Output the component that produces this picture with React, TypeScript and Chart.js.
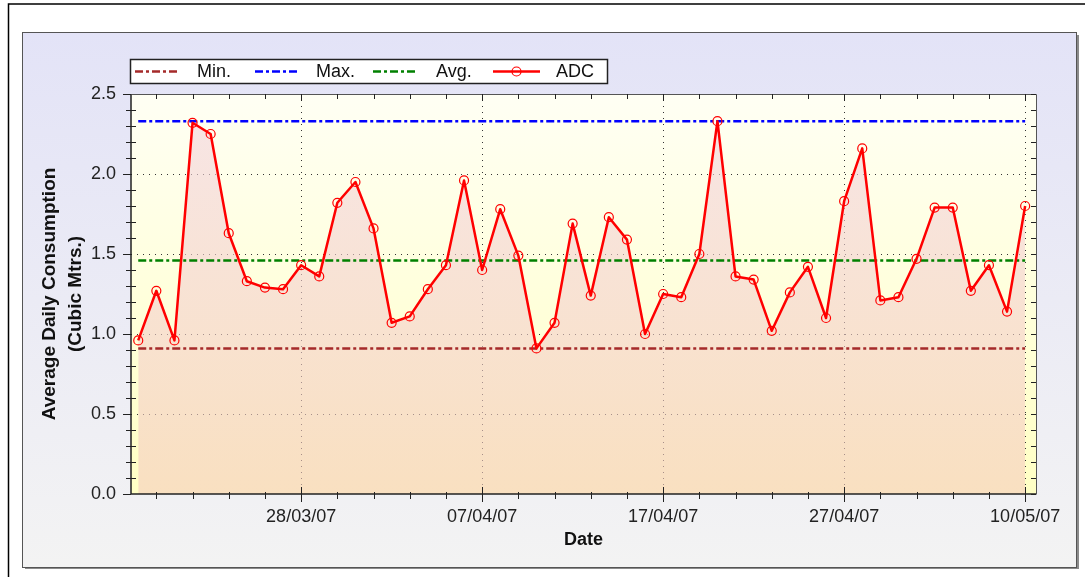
import React, { useEffect, useRef } from 'react';
import { Chart, registerables } from 'chart.js';

Chart.register(...registerables);

// ---- Data ----
const ADC_VALUES = [
  0.96, 1.27, 0.96, 2.32, 2.25, 1.63, 1.33, 1.29, 1.28, 1.43,
  1.36, 1.82, 1.95, 1.66, 1.07, 1.11, 1.28, 1.43, 1.96, 1.40,
  1.78, 1.49, 0.91, 1.07, 1.69, 1.24, 1.73, 1.59, 1.00, 1.25,
  1.23, 1.50, 2.33, 1.36, 1.34, 1.02, 1.26, 1.42, 1.10, 1.83,
  2.16, 1.21, 1.23, 1.47, 1.79, 1.79, 1.27, 1.43, 1.14, 1.80,
];
const MIN_VALUE = 0.91;
const MAX_VALUE = 2.33;
const AVG_VALUE = 1.46;

const X_TICK_POSITIONS = [9, 19, 29, 39, 49];
const X_TICK_LABELS = ['28/03/07', '07/04/07', '17/04/07', '27/04/07', '10/05/07'];
const Y_MIN = 0;
const Y_MAX = 2.5;
const Y_STEP = 0.5;

const LEGEND_LABELS = ['Min.', 'Max.', 'Avg.', 'ADC'];
const COLORS = { min: '#A52A2A', max: '#0000FF', avg: '#008000', adc: '#FF0000' };

const FONT = "'Liberation Sans', Arial, Helvetica, sans-serif";
const DASH = [8, 3, 3, 3];

export default function App() {
  const ref = useRef<HTMLCanvasElement>(null);

  useEffect(() => {
    const canvas = ref.current;
    if (!canvas) return;
    const lastIdx = ADC_VALUES.length - 1;
    const minorX: number[] = [];
    for (let i = 1; i <= lastIdx; i += 2) minorX.push(i);

    const refLine = (label: string, value: number, color: string) => ({
      label,
      data: [
        { x: 0, y: value },
        { x: lastIdx, y: value },
      ],
      borderColor: color,
      borderWidth: 2.5,
      borderDash: DASH,
      pointRadius: 0,
      fill: false,
      tension: 0,
    });

    const background = {
      id: 'bg',
      beforeDraw(chart: any) {
        const { ctx, width, height, chartArea: ca } = chart;
        ctx.save();
        ctx.fillStyle = '#FFFFFF';
        ctx.fillRect(0, 0, width, height);
        // outer frame
        ctx.strokeStyle = '#000';
        ctx.lineWidth = 1.5;
        ctx.beginPath();
        ctx.moveTo(8.5, height);
        ctx.lineTo(8.5, 4);
        ctx.lineTo(width, 4);
        ctx.stroke();
        // panel
        const g = ctx.createLinearGradient(0, 32, 0, 567);
        g.addColorStop(0, '#E3E3F7');
        g.addColorStop(1, '#F3F3F3');
        ctx.fillStyle = '#8A8A8A';
        ctx.fillRect(25, 567, 1054, 2);
        ctx.fillRect(1077, 35, 2, 534);
        ctx.fillStyle = g;
        ctx.fillRect(23, 32, 1054, 535);
        ctx.strokeStyle = '#555';
        ctx.lineWidth = 1;
        ctx.strokeRect(22.5, 32.5, 1054, 535);
        // plot area
        const pg = ctx.createLinearGradient(0, ca.top, 0, ca.bottom);
        pg.addColorStop(0, '#FFFFF4');
        pg.addColorStop(1, '#FFFFC4');
        ctx.fillStyle = pg;
        ctx.fillRect(ca.left, ca.top, ca.right - ca.left, ca.bottom - ca.top);
        ctx.restore();
      },
    };

    const overlay = {
      id: 'overlay',
      afterDraw(chart: any) {
        const { ctx, chartArea: ca } = chart;
        const xs = chart.scales.x;
        const ys = chart.scales.y;
        ctx.save();
        // plot border
        ctx.strokeStyle = '#555';
        ctx.lineWidth = 1;
        ctx.beginPath();
        ctx.moveTo(Math.round(ca.left) + 0.5, Math.round(ca.top) + 0.5);
        ctx.lineTo(Math.round(ca.right) + 0.5, Math.round(ca.top) + 0.5);
        ctx.lineTo(Math.round(ca.right) + 0.5, Math.round(ca.bottom) + 0.5);
        ctx.stroke();
        ctx.strokeStyle = '#222';
        ctx.lineWidth = 1.5;
        ctx.beginPath();
        ctx.moveTo(ca.left, ca.top);
        ctx.lineTo(ca.left, ca.bottom);
        ctx.lineTo(ca.right, ca.bottom);
        ctx.stroke();

        // tick marks
        ctx.strokeStyle = '#222';
        ctx.lineWidth = 1;
        ctx.beginPath();
        const nY = Math.round((Y_MAX - Y_MIN) / 0.1);
        for (let k = 0; k <= nY; k++) {
          const y = Math.round(ys.getPixelForValue(Y_MIN + k * 0.1)) + 0.5;
          const major = k % 5 === 0;
          if (major) {
            ctx.moveTo(ca.left - 8, y);
            ctx.lineTo(ca.left, y);
          } else {
            ctx.moveTo(ca.left - 5, y);
            ctx.lineTo(ca.left + 5, y);
          }
          ctx.moveTo(ca.right - 5, y);
          ctx.lineTo(ca.right, y);
        }
        for (const v of minorX) {
          const x = Math.round(xs.getPixelForValue(v)) + 0.5;
          const major = X_TICK_POSITIONS.includes(v);
          if (major) {
            ctx.moveTo(x, ca.bottom - 7);
            ctx.lineTo(x, ca.bottom + 8);
            ctx.moveTo(x, ca.top);
            ctx.lineTo(x, ca.top + 7);
          } else {
            ctx.moveTo(x, ca.bottom - 2);
            ctx.lineTo(x, ca.bottom + 5);
            ctx.moveTo(x, ca.top);
            ctx.lineTo(x, ca.top + 5);
          }
        }
        ctx.stroke();

        // legend
        const bx = 130.5, by = 59.5, bw = 477, bh = 24;
        ctx.fillStyle = '#FFFFFF';
        ctx.fillRect(bx, by, bw, bh);
        ctx.strokeStyle = '#222';
        ctx.lineWidth = 1.5;
        ctx.strokeRect(bx, by, bw, bh);
        const cy = 71.5;
        const items = [
          { label: LEGEND_LABELS[0], color: COLORS.min, x1: 135, x2: 178, tx: 197, dash: true },
          { label: LEGEND_LABELS[1], color: COLORS.max, x1: 255, x2: 298, tx: 316, dash: true },
          { label: LEGEND_LABELS[2], color: COLORS.avg, x1: 373, x2: 418, tx: 436, dash: true },
          { label: LEGEND_LABELS[3], color: COLORS.adc, x1: 493, x2: 540, tx: 556, dash: false },
        ];
        ctx.font = `18px ${FONT}`;
        ctx.textBaseline = 'middle';
        ctx.textAlign = 'left';
        for (const it of items) {
          ctx.strokeStyle = it.color;
          ctx.lineWidth = 2.5;
          ctx.setLineDash(it.dash ? DASH : []);
          ctx.beginPath();
          ctx.moveTo(it.x1, cy);
          ctx.lineTo(it.x2, cy);
          ctx.stroke();
          ctx.setLineDash([]);
          if (!it.dash) {
            ctx.lineWidth = 1.2;
            ctx.beginPath();
            ctx.arc((it.x1 + it.x2) / 2, cy, 4.5, 0, Math.PI * 2);
            ctx.stroke();
          }
          ctx.fillStyle = '#111';
          ctx.fillText(it.label, it.tx, cy + 1);
        }
        ctx.restore();
      },
    };

    const chart = new Chart(canvas, {
      type: 'line',
      data: {
        datasets: [
          {
            label: LEGEND_LABELS[3],
            data: ADC_VALUES.map((y, i) => ({ x: i, y })),
            borderColor: COLORS.adc,
            borderWidth: 2.5,
            borderJoinStyle: 'round',
            pointRadius: 4.5,
            pointBorderWidth: 1.2,
            pointBorderColor: COLORS.adc,
            pointBackgroundColor: 'rgba(0,0,0,0)',
            tension: 0,
            fill: 'origin',
            backgroundColor: (c: any) => {
              const ca = c.chart.chartArea;
              if (!ca) return 'rgba(245,205,200,0.6)';
              const g = c.chart.ctx.createLinearGradient(0, ca.top, 0, ca.bottom);
              g.addColorStop(0, 'rgba(242,212,222,0.6)');
              g.addColorStop(1, 'rgba(245,203,190,0.6)');
              return g;
            },
          },
          refLine(LEGEND_LABELS[2], AVG_VALUE, COLORS.avg),
          refLine(LEGEND_LABELS[1], MAX_VALUE, COLORS.max),
          refLine(LEGEND_LABELS[0], MIN_VALUE, COLORS.min),
        ] as any,
      },
      options: {
        responsive: false,
        animation: false,
        devicePixelRatio: 1,
        layout: { padding: { top: 94, right: 49, left: 0, bottom: 0 } },
        font: { family: FONT },
        plugins: {
          legend: { display: false },
          tooltip: { enabled: false },
          filler: { drawTime: 'beforeDatasetsDraw' },
        } as any,
        scales: {
          x: {
            type: 'linear',
            min: -0.4,
            max: lastIdx + 0.6,
            afterBuildTicks: (s: any) => {
              s.ticks = minorX.map((v) => ({ value: v }));
            },
            afterFit: (s: any) => {
              s.height = 83;
            },
            ticks: {
              autoSkip: false,
              maxRotation: 0,
              padding: 12,
              color: '#222',
              font: { size: 18, family: FONT },
              callback: (v: any) => {
                const i = X_TICK_POSITIONS.indexOf(Number(v));
                return i >= 0 ? X_TICK_LABELS[i] : '';
              },
            },
            grid: {
              drawTicks: false,
              lineWidth: 1,
              color: (c: any) =>
                c.tick && X_TICK_POSITIONS.includes(c.tick.value) ? '#333' : 'rgba(0,0,0,0)',
            },
            border: { display: false, dash: [1, 5] },
            title: {
              display: true,
              text: 'Date',
              color: '#111',
              font: { size: 18, weight: 'bold', family: FONT },
              padding: { top: 0, bottom: 26 },
            },
          },
          y: {
            min: Y_MIN,
            max: Y_MAX,
            afterFit: (s: any) => {
              s.width = 131;
            },
            ticks: {
              stepSize: Y_STEP,
              padding: 15,
              color: '#222',
              font: { size: 18, family: FONT },
              callback: (v: any) => Number(v).toFixed(1),
            },
            grid: {
              drawTicks: false,
              lineWidth: 1,
              color: (c: any) =>
                c.tick && c.tick.value > Y_MIN && c.tick.value < Y_MAX ? '#333' : 'rgba(0,0,0,0)',
            },
            border: { display: false, dash: [1, 5] },
            title: {
              display: true,
              text: ['Average Daily Consumption', '(Cubic Mtrs.)'],
              color: '#111',
              font: { size: 19, weight: 'bold', family: FONT, lineHeight: 1.4 },
              padding: { top: 36, bottom: 0 },
            },
          },
        },
      } as any,
      plugins: [background, overlay],
    });

    return () => chart.destroy();
  }, []);

  return (
    <div style={{ position: 'fixed', left: 0, top: 0, width: 1085, height: 577 }}>
      <canvas ref={ref} width={1085} height={577} style={{ display: 'block' }} />
    </div>
  );
}
